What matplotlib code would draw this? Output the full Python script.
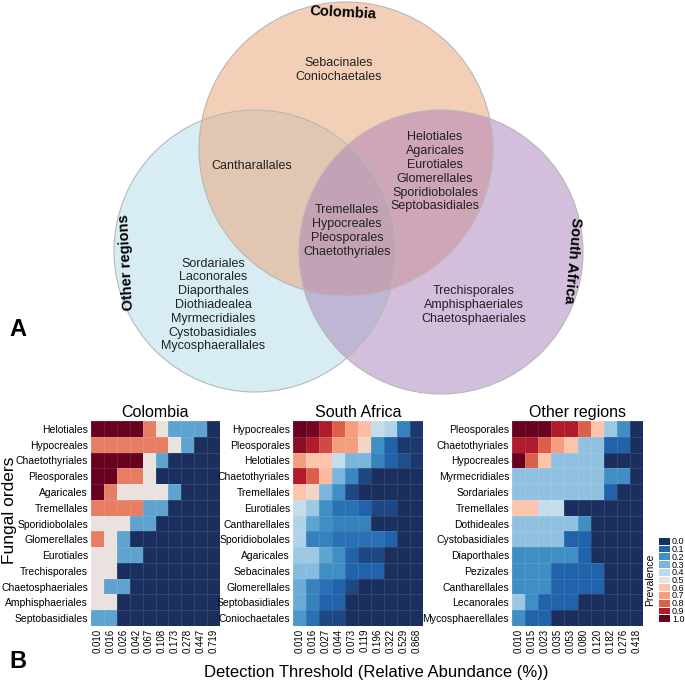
import numpy as np
import matplotlib.pyplot as plt
from matplotlib.colors import LinearSegmentedColormap
from matplotlib.patches import Circle

plt.rcParams['font.family'] = ['Liberation Sans', 'DejaVu Sans']

# ----- данные: диаграмма Венна -----
venn_names = ["Colombia", "Other regions", "South Africa"]
only_colombia = ["Sebacinales", "Coniochaetales"]
colombia_other = ["Cantharallales"]
colombia_sa = ["Helotiales", "Agaricales", "Eurotiales", "Glomerellales",
               "Sporidiobolales", "Septobasidiales"]
all_three = ["Tremellales", "Hypocreales", "Pleosporales", "Chaetothyriales"]
only_other = ["Sordariales", "Laconorales", "Diaporthales", "Diothiadealea",
              "Myrmecridiales", "Cystobasidiales", "Mycosphaerallales"]
only_sa = ["Trechisporales", "Amphisphaeriales", "Chaetosphaeriales"]

# ----- данные: тепловые карты -----
col_orders = ["Helotiales", "Hypocreales", "Chaetothyriales", "Pleosporales",
              "Agaricales", "Tremellales", "Sporidiobolales", "Glomerellales",
              "Eurotiales", "Trechisporales", "Chaetosphaeriales",
              "Amphisphaeriales", "Septobasidiales"]
col_thresholds = ["0.010", "0.016", "0.026", "0.042", "0.067", "0.108",
                  "0.173", "0.278", "0.447", "0.719"]
col_prev = [
    [1, 1, 1, 1, .75, .5, .25, .25, .25, 0],
    [.75, .75, .75, .75, .75, .75, .5, .25, 0, 0],
    [1, 1, 1, 1, .5, .25, 0, 0, 0, 0],
    [1, 1, .75, .75, .5, 0, 0, 0, 0, 0],
    [1, .75, .5, .5, .5, .5, .25, 0, 0, 0],
    [.75, .75, .75, .75, .25, .25, 0, 0, 0, 0],
    [.5, .5, .5, .25, .25, 0, 0, 0, 0, 0],
    [.75, .5, .25, 0, 0, 0, 0, 0, 0, 0],
    [.5, .5, .25, .25, 0, 0, 0, 0, 0, 0],
    [.5, .5, 0, 0, 0, 0, 0, 0, 0, 0],
    [.5, .25, .25, 0, 0, 0, 0, 0, 0, 0],
    [.5, .5, 0, 0, 0, 0, 0, 0, 0, 0],
    [.25, .25, 0, 0, 0, 0, 0, 0, 0, 0],
]

sa_orders = ["Hypocreales", "Pleosporales", "Helotiales", "Chaetothyriales",
             "Tremellales", "Eurotiales", "Cantharellales", "Sporidiobolales",
             "Agaricales", "Sebacinales", "Glomerellales", "Septobasidiales",
             "Coniochaetales"]
sa_thresholds = ["0.010", "0.016", "0.027", "0.044", "0.073", "0.119",
                 "0.196", "0.322", "0.529", "0.868"]
sa_prev = [
    [1.0, 0.98, 0.9, 0.8, 0.7, 0.62, 0.42, 0.38, 0.17, 0.02],
    [0.95, 0.9, 0.83, 0.7, 0.7, 0.55, 0.2, 0.1, 0.02, 0.02],
    [0.7, 0.6, 0.6, 0.42, 0.3, 0.3, 0.17, 0.1, 0.06, 0.02],
    [0.9, 0.8, 0.63, 0.3, 0.18, 0.05, 0, 0, 0, 0],
    [0.6, 0.55, 0.3, 0.2, 0.05, 0, 0, 0, 0, 0],
    [0.42, 0.35, 0.2, 0.13, 0.13, 0.1, 0.05, 0.05, 0, 0],
    [0.38, 0.25, 0.2, 0.17, 0.17, 0.17, 0, 0, 0, 0],
    [0.38, 0.17, 0.17, 0.13, 0.13, 0.13, 0.13, 0.1, 0, 0],
    [0.35, 0.35, 0.25, 0.2, 0.1, 0.05, 0.05, 0, 0, 0],
    [0.32, 0.32, 0.2, 0.2, 0.1, 0.1, 0.1, 0, 0, 0],
    [0.27, 0.17, 0.13, 0.1, 0.05, 0, 0, 0, 0, 0],
    [0.27, 0.17, 0.1, 0.1, 0, 0, 0, 0, 0, 0],
    [0.22, 0.13, 0.05, 0.05, 0, 0, 0, 0, 0, 0],
]

oth_orders = ["Pleosporales", "Chaetothyriales", "Hypocreales",
              "Myrmecridiales", "Sordariales", "Tremellales", "Dothideales",
              "Cystobasidiales", "Diaporthales", "Pezizales", "Cantharellales",
              "Lecanorales", "Mycosphaerellales"]
oth_thresholds = ["0.010", "0.015", "0.023", "0.035", "0.053", "0.080",
                  "0.120", "0.182", "0.276", "0.418"]
oth_prev = [
    [1, 1, 1, .9, .9, .8, .6, .35, .2, 0],
    [.9, .9, .8, .7, .6, .33, .33, .1, .1, 0],
    [1, .8, .6, .33, .33, .33, .33, 0, 0, 0],
    [.33, .33, .33, .33, .33, .33, .33, .2, .2, 0],
    [.33, .33, .33, .33, .33, .33, .33, .1, 0, 0],
    [.6, .6, .42, .42, 0, 0, 0, 0, 0, 0],
    [.33, .33, .33, .33, .33, .2, 0, 0, 0, 0],
    [.33, .33, .33, .33, .1, .1, 0, 0, 0, 0],
    [.2, .2, .2, .2, .2, .1, 0, 0, 0, 0],
    [.2, .2, .2, .1, .1, .1, .1, 0, 0, 0],
    [.2, .2, .2, .1, .1, .1, .1, 0, 0, 0],
    [.35, .2, .1, .1, .1, 0, 0, 0, 0, 0],
    [.2, .1, .1, 0, 0, 0, 0, 0, 0, 0],
]

legend_levels = [0.0, 0.1, 0.2, 0.3, 0.4, 0.5, 0.6, 0.7, 0.8, 0.9, 1.0]

# палитра распространённости
cmap = LinearSegmentedColormap.from_list("prev", [
    "#1b2f5e", "#2064ad", "#3f8fc5", "#7db6db", "#bcdaee", "#e9e3e0",
    "#fcc5ab", "#f3a080", "#dd5f4b", "#b01c2d", "#680020"])

W, H = 685, 683
fig = plt.figure(figsize=(W / 100, H / 100), dpi=100)


def px_axes(x0, y0, x1, y1):
    # оси по пиксельным координатам (от верхнего левого угла)
    return fig.add_axes([x0 / W, 1 - y1 / H, (x1 - x0) / W, (y1 - y0) / H])


# ----- диаграмма Венна -----
ax_v = fig.add_axes([0, 0, 1, 1])
ax_v.set_xlim(0, W)
ax_v.set_ylim(H, 0)
ax_v.axis('off')

# порядок: другие регионы, Колумбия, ЮАР (так смешиваются цвета пересечений)
circles = [((255, 251), 141, "#b1dde9"),
           ((346, 149), 147, "#eba171"),
           ((441, 252), 142, "#a97fb9")]
for (c, r, color) in circles:
    ax_v.add_patch(Circle(c, r, facecolor=color, alpha=0.5, edgecolor="none"))
for (c, r, color) in circles:
    ax_v.add_patch(Circle(c, r, fill=False, edgecolor="#b8b8b8", lw=0.8))

ax_v.text(343, 13, venn_names[0], fontsize=10.5, fontweight="bold",
          ha="center", va="center", rotation=-3)
ax_v.text(126, 262, venn_names[1], fontsize=10.5, fontweight="bold",
          ha="center", va="center", rotation=93)
ax_v.text(572, 260, venn_names[2], fontsize=10.5, fontweight="bold",
          ha="center", va="center", rotation=-95)

groups = [(only_colombia, 339, 70), (colombia_other, 252, 166),
          (colombia_sa, 435, 172), (all_three, 347, 231),
          (only_other, 213, 305), (only_sa, 474, 305)]
for names, x, y in groups:
    ax_v.text(x, y, "\n".join(names), fontsize=9, ha="center", va="center",
              linespacing=1.2, color="#222222")

ax_v.text(18, 330, "A", fontsize=17, fontweight="bold", ha="center", va="center")
ax_v.text(18, 662, "B", fontsize=17, fontweight="bold", ha="center", va="center")
ax_v.text(376, 672, "Detection Threshold (Relative Abundance (%))",
          fontsize=12, ha="center", va="center")
ax_v.text(10, 510, "Fungal orders", fontsize=12.5, ha="center", va="center",
          rotation=90)

# ----- тепловые карты -----
panels = [("Colombia", col_orders, col_thresholds, col_prev, 91, 220),
          ("South Africa", sa_orders, sa_thresholds, sa_prev, 293, 423),
          ("Other regions", oth_orders, oth_thresholds, oth_prev, 512, 643)]

for title, orders, thr, prev, x0, x1 in panels:
    ax = px_axes(x0, 421, x1, 626)
    data = np.array(prev)
    ax.pcolormesh(np.arange(len(thr) + 1), np.arange(len(orders) + 1), data,
                  cmap=cmap, vmin=0, vmax=1,
                  edgecolors=(1, 1, 1, 0.1), linewidth=0.4)
    ax.set_xlim(0, len(thr))
    ax.set_ylim(len(orders), 0)
    ax.set_xticks(np.arange(len(thr)) + 0.5)
    ax.set_xticklabels(thr, rotation=90, fontsize=7)
    ax.set_yticks(np.arange(len(orders)) + 0.5)
    ax.set_yticklabels(orders, fontsize=7.5)
    ax.tick_params(length=0, pad=2)
    for s in ax.spines.values():
        s.set_visible(False)
    ax.set_title(title, fontsize=11.5, pad=3)

# ----- легенда -----
ax_c = px_axes(658, 537, 670, 622)
ax_c.pcolormesh([0, 1], np.arange(len(legend_levels) + 1),
                np.array(legend_levels).reshape(-1, 1), cmap=cmap,
                vmin=0, vmax=1, edgecolors="white", linewidth=0.6)
ax_c.set_ylim(len(legend_levels), 0)
ax_c.set_xticks([])
ax_c.set_yticks(np.arange(len(legend_levels)) + 0.5)
ax_c.set_yticklabels(["{:.1f}".format(v) for v in legend_levels], fontsize=6.5)
ax_c.yaxis.tick_right()
ax_c.tick_params(length=0, pad=1.5)
ax_c.set_ylabel("Prevalence", fontsize=7.5, labelpad=2)
for s in ax_c.spines.values():
    s.set_visible(False)

plt.savefig("out.png", dpi=100)
